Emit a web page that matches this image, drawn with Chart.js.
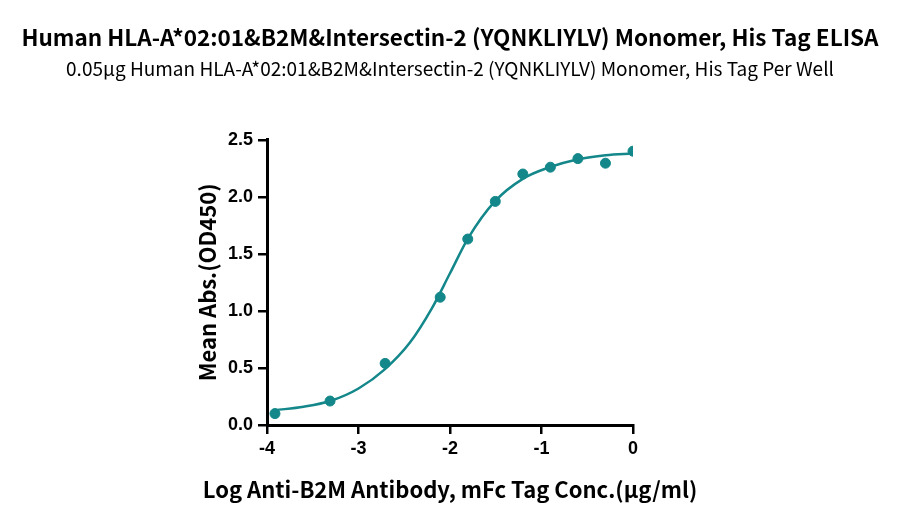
<!DOCTYPE html>
<html>
<head>
<meta charset="utf-8">
<script src="https://cdn.jsdelivr.net/npm/chart.js@4/dist/chart.umd.min.js"></script>
<style>
  html, body { margin: 0; padding: 0; background: #fff; }
  #wrap { width: 900px; height: 521px; }
</style>
</head>
<body>
<div id="wrap"><canvas id="elisa"></canvas></div>
<script>
// measured points (log conc vs mean OD450)
const logConc = [-3.913, -3.311, -2.709, -2.107, -1.806, -1.505, -1.204, -0.903, -0.602, -0.301, 0];
const meanAbs = [0.10, 0.21, 0.54, 1.12, 1.63, 1.96, 2.20, 2.26, 2.335, 2.295, 2.40];

// fitted curve
const fitX = [-3.91, -3.6, -3.31, -3.0, -2.71, -2.44, -2.2, -2.0, -1.8, -1.51, -1.2, -0.91, -0.6, -0.3, 0];
const fitY = [0.13, 0.16, 0.21, 0.32, 0.49, 0.72, 1.02, 1.33, 1.64, 1.96, 2.16, 2.26, 2.33, 2.365, 2.38];

const xTicks = [-4, -3, -2, -1, 0];
const yTicks = [0, 0.5, 1.0, 1.5, 2.0, 2.5];

const teal = "#13878a";
const tickFont = { family: "'Liberation Sans', Arial, sans-serif", size: 18, weight: "bold" };
const titleFamily = "'Noto Sans CJK SC', 'Noto Sans', sans-serif";
const xTitle = "Log Anti-B2M Antibody, mFc Tag Conc.(μg/ml)";

// x title is wider than the plot, so draw it by hand (chart.js would squeeze it)
const xTitlePlugin = {
  id: "xTitle",
  afterDraw(chart) {
    const c = chart.ctx;
    const area = chart.chartArea;
    c.save();
    c.font = "bold 22px " + titleFamily;
    c.fillStyle = "#000";
    c.textAlign = "center";
    c.textBaseline = "middle";
    c.fillText(xTitle, (area.left + area.right) / 2, 490);
    c.restore();
  },
};

const ctx = document.getElementById("elisa").getContext("2d");
new Chart(ctx, {
  type: "scatter",
  data: {
    datasets: [
      {
        label: "fit",
        data: fitX.map((x, i) => ({ x: x, y: fitY[i] })),
        showLine: true,
        borderColor: teal,
        borderWidth: 2.5,
        pointRadius: 0,
        cubicInterpolationMode: "monotone",
        fill: false,
      },
      {
        label: "data",
        data: logConc.map((x, i) => ({ x: x, y: meanAbs[i] })),
        backgroundColor: teal,
        borderColor: teal,
        pointRadius: 5,
        showLine: false,
      },
    ],
  },
  plugins: [xTitlePlugin],
  options: {
    responsive: true,
    maintainAspectRatio: false,
    animation: false,
    layout: { padding: 0 },
    plugins: {
      legend: { display: false },
      tooltip: { enabled: false },
      title: {
        display: true,
        text: "Human HLA-A*02:01&B2M&Intersectin-2 (YQNKLIYLV) Monomer, His Tag ELISA",
        color: "#000",
        font: { family: titleFamily, size: 22.5, weight: "bold" },
        padding: { top: 24, bottom: 6 },
      },
      subtitle: {
        display: true,
        text: "0.05μg Human HLA-A*02:01&B2M&Intersectin-2 (YQNKLIYLV) Monomer, His Tag Per Well",
        color: "#000",
        font: { family: titleFamily, size: 19 },
        padding: { top: 0, bottom: 60 },
      },
    },
    scales: {
      x: {
        type: "linear",
        min: -4,
        max: 0,
        afterBuildTicks: (axis) => { axis.ticks = xTicks.map((v) => ({ value: v })); },
        afterFit: (axis) => { axis.height = 96; },
        grid: { drawOnChartArea: false, drawTicks: true, tickLength: 9, color: "#000", lineWidth: 2.5 },
        border: { display: true, color: "#000", width: 3 },
        ticks: { color: "#000", font: tickFont, padding: 4 },
      },
      y: {
        type: "linear",
        position: "left",
        min: 0,
        max: 2.5,
        afterBuildTicks: (axis) => { axis.ticks = yTicks.map((v) => ({ value: v })); },
        afterFit: (axis) => { axis.width = 267; },
        grid: { drawOnChartArea: false, drawTicks: true, tickLength: 9, color: "#000", lineWidth: 2.5 },
        border: { display: true, color: "#000", width: 3 },
        ticks: { color: "#000", font: tickFont, padding: 5, callback: (v) => v.toFixed(1) },
        title: {
          display: true,
          text: "Mean Abs.(OD450)",
          color: "#000",
          font: { family: titleFamily, size: 22, weight: "bold" },
          padding: { top: 194, bottom: 0 },
        },
      },
      // empty right axis, only reserves the white space on the right
      spacer: {
        type: "linear",
        position: "right",
        afterFit: (axis) => { axis.width = 267; },
        grid: { display: false },
        border: { display: false },
        ticks: { display: false },
      },
    },
  },
});
</script>
</body>
</html>
